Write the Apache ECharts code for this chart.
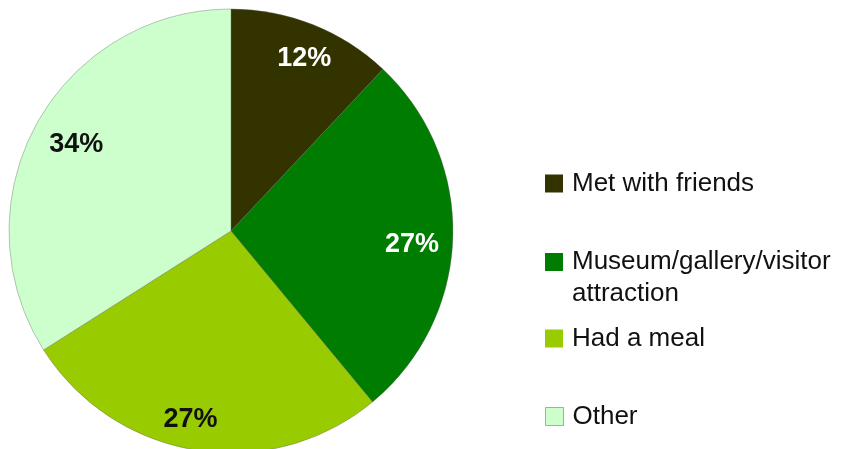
<!DOCTYPE html>
<html>
<head>
<meta charset="utf-8">
<script src="https://cdn.jsdelivr.net/npm/echarts@6/dist/echarts.min.js"></script>
<style>
  html, body { margin: 0; padding: 0; background: #fff; }
  #chart { width: 845px; height: 449px; }
</style>
</head>
<body>
<div id="chart"></div>
<script>
// Activities (share of respondents, %)
const categories = ['Met with friends', 'Museum/gallery/visitor\nattraction', 'Had a meal', 'Other'];
const shares = [12, 27, 27, 34];
const sliceColors = ['#333300', '#007d00', '#99cc00', '#ccffcc'];
const labelColors = ['#ffffff', '#ffffff', '#111111', '#111111'];
// small nudges of the percentage labels away from the exact ring midpoint
const labelNudges = [[4, 2], [-7, 8], [-11, 3], [10, 4]];

const FONT = '"Liberation Sans", Arial, Helvetica, sans-serif';

const sliceData = categories.map((name, i) => ({
  name: name,
  value: shares[i],
  itemStyle: { color: sliceColors[i] }
}));

const labelData = categories.map((name, i) => ({
  name: name,
  value: shares[i],
  label: { color: labelColors[i], offset: labelNudges[i] }
}));

// One legend block per entry so each can sit at its own height
const legendTops = [167.5, 246, 322.5, 400.5];
const legends = categories.map((name, i) => {
  const twoLine = name.indexOf('\n') >= 0;
  const isPale = i === categories.length - 1;
  return {
    data: [name],
    orient: 'vertical',
    left: 545,
    top: legendTops[i],
    padding: 0,
    itemWidth: 18,
    itemHeight: twoLine ? 50 : 18,
    // keep the swatch level with the first text line
    icon: twoLine ? 'path://M0,0L18,0L18,18L0,18Z M0,50L0.01,50Z' : 'rect',
    itemStyle: isPale
      ? { borderColor: 'rgba(120,120,120,0.6)', borderWidth: 1 }
      : { borderWidth: 0 },
    selectedMode: false,
    textStyle: {
      fontFamily: FONT,
      fontSize: 26,
      lineHeight: 32,
      color: '#111',
      padding: [0, 0, 0, 4]
    }
  };
});

const chart = echarts.init(document.getElementById('chart'), null, { renderer: 'canvas' });
chart.setOption({
  animation: false,
  backgroundColor: '#ffffff',
  legend: legends,
  series: [
    {
      type: 'pie',
      center: [231, 231],
      radius: [0, 222],
      startAngle: 90,
      clockwise: true,
      silent: true,
      label: { show: false },
      labelLine: { show: false },
      itemStyle: { borderColor: 'rgba(90,90,90,0.45)', borderWidth: 0.8 },
      data: sliceData
    },
    {
      // transparent ring carrying the percentage labels
      type: 'pie',
      center: [231, 231],
      radius: [148, 222],
      startAngle: 90,
      clockwise: true,
      silent: true,
      legendHoverLink: false,
      itemStyle: { color: 'rgba(0,0,0,0)', borderWidth: 0 },
      label: {
        show: true,
        position: 'inside',
        formatter: '{c}%',
        fontFamily: FONT,
        fontSize: 27,
        fontWeight: 'bold'
      },
      labelLine: { show: false },
      data: labelData
    }
  ]
});
</script>
</body>
</html>
